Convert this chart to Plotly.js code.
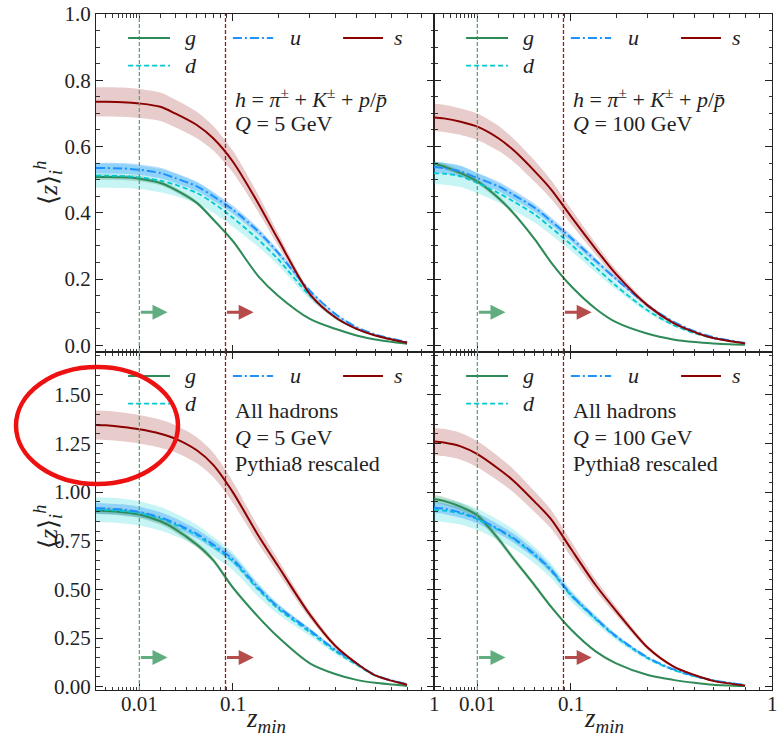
<!DOCTYPE html>
<html><head><meta charset="utf-8">
<script src="https://cdn.plot.ly/plotly-3.0.1.min.js"></script>
<style>html,body{margin:0;padding:0;background:#fff}#chart{width:778px;height:740px}</style>
</head><body><div id="chart"></div>
<script>
// z_min sample points
const zmin = [0.001,0.002,0.005,0.01,0.02,0.03,0.05,0.07,0.1,0.15,0.2,0.3,0.4,0.5,0.6,0.8];

// Top-left: h = pi+K+p, Q = 5 GeV
const tl_g = [0.508,0.508,0.507,0.503,0.49,0.47,0.43,0.38,0.315,0.21,0.15,0.08,0.05,0.03,0.018,0.005];
const tl_d = [0.512,0.512,0.511,0.507,0.497,0.485,0.46,0.43,0.385,0.32,0.26,0.15,0.085,0.05,0.03,0.008];
const tl_u = [0.535,0.535,0.534,0.53,0.52,0.505,0.48,0.45,0.41,0.345,0.28,0.165,0.095,0.055,0.033,0.01];
const tl_s = [0.735,0.735,0.734,0.73,0.72,0.70,0.665,0.625,0.555,0.43,0.32,0.155,0.085,0.05,0.03,0.008];
const tl_g_err = [0.008,0.008,0.008,0.008,0.007,0.007,0.006,0.006,0.005,0.003,0.002,0.0012,0.0008,0.0005,0.0003,0.0001];
const tl_d_err = [0.036,0.036,0.036,0.035,0.035,0.034,0.032,0.030,0.027,0.022,0.018,0.011,0.006,0.0035,0.002,0.0006];
const tl_u_err = [0.016,0.016,0.016,0.016,0.016,0.015,0.014,0.013,0.012,0.010,0.008,0.005,0.003,0.002,0.001,0.0003];
const tl_s_err = [0.044,0.044,0.044,0.044,0.043,0.042,0.040,0.037,0.033,0.026,0.019,0.009,0.005,0.003,0.002,0.0005];

// Top-right: h = pi+K+p, Q = 100 GeV
const tr_g = [0.548,0.54,0.52,0.495,0.445,0.4,0.32,0.25,0.18,0.11,0.07,0.035,0.018,0.01,0.006,0.002];
const tr_d = [0.52,0.518,0.51,0.49,0.46,0.435,0.395,0.355,0.305,0.235,0.18,0.105,0.062,0.037,0.022,0.006];
const tr_u = [0.538,0.535,0.525,0.505,0.48,0.455,0.415,0.375,0.325,0.255,0.2,0.12,0.072,0.043,0.025,0.007];
const tr_s = [0.688,0.685,0.675,0.66,0.625,0.59,0.525,0.47,0.39,0.29,0.215,0.12,0.068,0.04,0.022,0.006];
const tr_g_err = [0.008,0.008,0.008,0.007,0.007,0.006,0.005,0.004,0.003,0.002,0.001,0.0005,0.0003,0.0002,0.0001,0.0001];
const tr_d_err = [0.033,0.033,0.032,0.031,0.029,0.027,0.025,0.022,0.019,0.015,0.011,0.007,0.004,0.0023,0.0014,0.0004];
const tr_u_err = [0.016,0.016,0.016,0.015,0.014,0.014,0.012,0.011,0.010,0.008,0.006,0.004,0.002,0.0013,0.0008,0.0002];
const tr_s_err = [0.041,0.041,0.040,0.040,0.038,0.035,0.032,0.028,0.023,0.017,0.013,0.007,0.004,0.0024,0.0013,0.0004];

// Bottom-left: all hadrons, Q = 5 GeV
const bl_g = [0.905,0.903,0.897,0.885,0.85,0.81,0.73,0.65,0.51,0.36,0.255,0.12,0.065,0.035,0.02,0.004];
const bl_d = [0.91,0.908,0.903,0.891,0.863,0.833,0.778,0.72,0.645,0.50,0.40,0.28,0.182,0.113,0.057,0.011];
const bl_u = [0.917,0.915,0.91,0.898,0.87,0.84,0.785,0.73,0.655,0.51,0.41,0.29,0.19,0.12,0.06,0.012];
const bl_s = [1.345,1.343,1.335,1.323,1.3,1.275,1.215,1.14,1.0,0.78,0.62,0.37,0.21,0.12,0.058,0.01];
const bl_g_err = [0.018,0.018,0.018,0.018,0.017,0.016,0.015,0.013,0.010,0.007,0.005,0.0024,0.0013,0.0007,0.0004,0.0001];
const bl_d_err = [0.064,0.064,0.063,0.062,0.060,0.058,0.054,0.050,0.045,0.035,0.028,0.02,0.013,0.008,0.004,0.0008];
const bl_u_err = [0.028,0.027,0.027,0.027,0.026,0.025,0.024,0.022,0.020,0.015,0.012,0.009,0.006,0.004,0.002,0.0004];
const bl_s_err = [0.075,0.075,0.074,0.073,0.072,0.070,0.067,0.063,0.055,0.043,0.034,0.02,0.012,0.007,0.003,0.0006];

// Bottom-right: all hadrons, Q = 100 GeV
const br_g = [0.965,0.955,0.925,0.88,0.76,0.66,0.52,0.41,0.295,0.18,0.12,0.06,0.035,0.02,0.01,0.003];
const br_d = [0.91,0.905,0.89,0.86,0.805,0.76,0.675,0.595,0.47,0.345,0.255,0.145,0.087,0.053,0.032,0.008];
const br_u = [0.92,0.915,0.895,0.865,0.81,0.765,0.68,0.6,0.475,0.35,0.26,0.15,0.09,0.055,0.033,0.008];
const br_s = [1.26,1.255,1.235,1.195,1.12,1.06,0.95,0.86,0.71,0.52,0.39,0.2,0.105,0.06,0.03,0.006];
const br_g_err = [0.02,0.02,0.019,0.018,0.016,0.014,0.011,0.009,0.006,0.004,0.0025,0.0012,0.0007,0.0004,0.0002,0.0001];
const br_d_err = [0.058,0.058,0.057,0.055,0.052,0.049,0.043,0.038,0.03,0.022,0.016,0.009,0.0056,0.0034,0.002,0.0005];
const br_u_err = [0.028,0.027,0.027,0.026,0.024,0.023,0.02,0.018,0.014,0.011,0.008,0.0045,0.0027,0.0017,0.001,0.0002];
const br_s_err = [0.07,0.07,0.069,0.067,0.063,0.059,0.053,0.048,0.04,0.029,0.022,0.011,0.006,0.0034,0.0017,0.0003];

// cut positions (vertical lines / arrows)
const cuts = [0.01, 0.088];
const arrowY = [0.1, 0.15];

// tick labels
const xTickVals = [0.01, 0.1, 1];
const xTickText = ['0.01', '0.1', '1'];
const xMinor = [0.002,0.003,0.004,0.005,0.006,0.007,0.008,0.009,0.02,0.03,0.04,0.05,0.06,0.07,0.08,0.09,0.2,0.3,0.4,0.5,0.6,0.7,0.8,0.9];

const flavours = ['g','d','u','s'];
const labels = {g:'g', u:'u', d:'d', s:'s'};

// ---------- drawing ----------
const T = v => Math.cbrt(v);        // the x axis is a cube-root scale
const X = zmin.map(T);
const FONT = "'Liberation Serif', 'Times New Roman', serif";
const COL = {g:'#2e8b57', u:'#1e90ff', d:'#00c8d0', s:'#8b0000'};
const BAND = {g:'rgba(46,139,87,0.28)', u:'rgba(30,144,255,0.32)', d:'rgba(0,206,209,0.22)', s:'rgba(139,0,0,0.2)'};
const DASH = {g:'solid', u:'9px,3px,2px,3px', d:'5px,3px', s:'solid'};
const WID = {g:2, u:2, d:1.8, s:2};

const panels = [
  {xa:'x',  ya:'y',  row:0, data:{g:[tl_g,tl_g_err], d:[tl_d,tl_d_err], u:[tl_u,tl_u_err], s:[tl_s,tl_s_err]}},
  {xa:'x2', ya:'y2', row:0, data:{g:[tr_g,tr_g_err], d:[tr_d,tr_d_err], u:[tr_u,tr_u_err], s:[tr_s,tr_s_err]}},
  {xa:'x3', ya:'y3', row:1, data:{g:[bl_g,bl_g_err], d:[bl_d,bl_d_err], u:[bl_u,bl_u_err], s:[bl_s,bl_s_err]}},
  {xa:'x4', ya:'y4', row:1, data:{g:[br_g,br_g_err], d:[br_d,br_d_err], u:[br_u,br_u_err], s:[br_s,br_s_err]}},
];

const traces = [];
const shapes = [];
const annotations = [];

panels.forEach(p => {
  ['s','d','u','g'].forEach(f => {
    const [v, e] = p.data[f];
    traces.push({x:X, y:v.map((a,i)=>a-e[i]), xaxis:p.xa, yaxis:p.ya, mode:'lines',
      line:{width:0, shape:'spline', smoothing:0.8, color:BAND[f]}, hoverinfo:'skip', showlegend:false});
    traces.push({x:X, y:v.map((a,i)=>a+e[i]), xaxis:p.xa, yaxis:p.ya, mode:'lines', fill:'tonexty',
      fillcolor:BAND[f], line:{width:0, shape:'spline', smoothing:0.8, color:BAND[f]}, hoverinfo:'skip', showlegend:false});
  });
  flavours.forEach(f => {
    traces.push({x:X, y:p.data[f][0], xaxis:p.xa, yaxis:p.ya, mode:'lines', name:labels[f],
      line:{color:COL[f], width:WID[f], dash:DASH[f], shape:'spline', smoothing:0.8}, showlegend:false});
  });
  // vertical cut lines
  const dom = p.ya + ' domain';
  shapes.push({type:'line', xref:p.xa, yref:dom, x0:T(cuts[0]), x1:T(cuts[0]), y0:0, y1:1, layer:'above',
    line:{color:'#5aa779', width:1.3, dash:'4px,2px'}});
  shapes.push({type:'line', xref:p.xa, yref:dom, x0:T(cuts[1]), x1:T(cuts[1]), y0:0, y1:1, layer:'above',
    line:{color:'#a01818', width:1.3, dash:'4px,2px'}});
  // arrows
  const ay = arrowY[p.row];
  [[cuts[0],'rgba(80,165,115,0.9)'],[cuts[1],'rgba(175,60,60,0.92)']].forEach(([c,col]) => {
    annotations.push({xref:p.xa, yref:p.ya, axref:p.xa, ayref:p.ya, x:T(c)+0.075, y:ay, ax:T(c), ay:ay,
      text:'', showarrow:true, arrowhead:2, arrowsize:1.0, arrowwidth:3, arrowcolor:col, standoff:0, startstandoff:0});
  });
  // legend
  const xd = p.xa + ' domain';
  const leg = [['g',0.095,0.219,0.258,0.929],['u',0.405,0.524,0.568,0.929],['s',0.731,0.849,0.876,0.929],['d',0.095,0.219,0.258,0.847]];
  leg.forEach(([f,a,b,t,y]) => {
    shapes.push({type:'line', xref:xd, yref:dom, x0:a, x1:b, y0:y, y1:y, line:{color:COL[f], width:WID[f], dash:DASH[f]}});
    annotations.push({xref:xd, yref:dom, x:t, y:y, xanchor:'left', yanchor:'middle', showarrow:false,
      text:'<i>'+labels[f]+'</i>', font:{family:FONT, size:22, color:'#222'}});
  });
  // panel text
  const txt = p.row === 0
    ? [['<i>h</i> = <i>π</i><sup>±</sup> + <i>K</i><sup>±</sup> + <i>p</i>/<i>p̄</i>',0.751], ['<i>Q</i> = ' + (p.xa==='x'?'5':'100') + ' GeV',0.675]]
    : [['All hadrons',0.826], ['<i>Q</i> = ' + (p.xa==='x3'?'5':'100') + ' GeV',0.748], ['Pythia8 rescaled',0.671]];
  const tx = (p.xa==='x'||p.xa==='x3') ? 0.404 : 0.405;
  txt.forEach(([s,y]) => annotations.push({xref:xd, yref:dom, x:tx, y:y, xanchor:'left', yanchor:'middle',
    showarrow:false, text:s, font:{family:FONT, size:22, color:'#222'}}));
  // x tick labels (bottom row only)
  if (p.row === 1) {
    xTickVals.forEach((v,i) => annotations.push({xref:p.xa, yref:'paper', x:T(v), y:50/740, xanchor:'center', yanchor:'top',
      showarrow:false, text:xTickText[i], font:{family:FONT, size:21, color:'#222'}}));
  }
});

// axis titles
const ytitle = '⟨<i>z</i>⟩<sub><i>i</i></sub><sup><i>h</i></sup>';
[183, 527].forEach(yc => annotations.push({xref:'paper', yref:'paper', x:48/778, y:(740-yc)/740, xanchor:'center', yanchor:'middle',
  text:ytitle, textangle:-90, showarrow:false, font:{family:FONT, size:26, color:'#222'}}));
const xtitle = '<i>z</i><sub><i>min</i></sub>';
[266, 604].forEach(xc => annotations.push({xref:'paper', yref:'paper', x:xc/778, y:(740-720)/740, xanchor:'center', yanchor:'middle',
  text:xtitle, showarrow:false, font:{family:FONT, size:27, color:'#222'}}));

// red ellipse highlight
shapes.push({type:'circle', xref:'paper', yref:'paper', layer:'above',
  x0:16/778, x1:178/778, y0:(740-484)/740, y1:(740-367)/740, line:{color:'#ee1111', width:4.5}});

function xAxis(dom, anchor) {
  return {domain:dom, anchor:anchor, type:'linear', range:[T(0.001), T(1)], tickmode:'array',
    tickvals:xTickVals.map(T), ticktext:xTickText, showticklabels:false, ticks:'inside', ticklen:7, tickwidth:1,
    tickcolor:'#222', mirror:'allticks', showline:true, linecolor:'#222', linewidth:1.1, showgrid:false, zeroline:false,
    minor:{tickmode:'array', tickvals:xMinor.map(T), ticks:'inside', ticklen:3.5, tickwidth:0.9, tickcolor:'#222', showgrid:false}};
}
function yAxis(dom, anchor, labels, top) {
  return {domain:dom, anchor:anchor, range: top ? [-0.02, 1.0] : [-0.017, 1.72], tickmode:'linear', tick0:0,
    dtick: top ? 0.2 : 0.25, tickformat: top ? '.1f' : '.2f', showticklabels:labels, ticks:'inside', ticklen:7,
    tickwidth:1, tickcolor:'#222', mirror:'allticks', showline:true, linecolor:'#222', linewidth:1.1, showgrid:false,
    zeroline:false, minor:{tickmode:'linear', tick0:0, dtick:0.05, ticks:'inside', ticklen:3.5, tickwidth:0.9, tickcolor:'#222', showgrid:false},
    tickfont:{family:FONT, size:21, color:'#222'}};
}
const XL = [96/778, 434/778], XR = [434/778, 772/778];
const YT = [388/740, 726/740], YB = [50/740, 388/740];

const layout = {
  width:778, height:740, margin:{l:0, r:0, t:0, b:0}, paper_bgcolor:'#fff', plot_bgcolor:'rgba(0,0,0,0)',
  showlegend:false, font:{family:FONT, color:'#222'},
  xaxis:xAxis(XL,'y'), yaxis:yAxis(YT,'x',true,true),
  xaxis2:xAxis(XR,'y2'), yaxis2:yAxis(YT,'x2',false,true),
  xaxis3:xAxis(XL,'y3'), yaxis3:yAxis(YB,'x3',true,false),
  xaxis4:xAxis(XR,'y4'), yaxis4:yAxis(YB,'x4',false,false),
  shapes:shapes, annotations:annotations
};
Plotly.newPlot('chart', traces, layout, {displayModeBar:false, staticPlot:true});
</script></body></html>
